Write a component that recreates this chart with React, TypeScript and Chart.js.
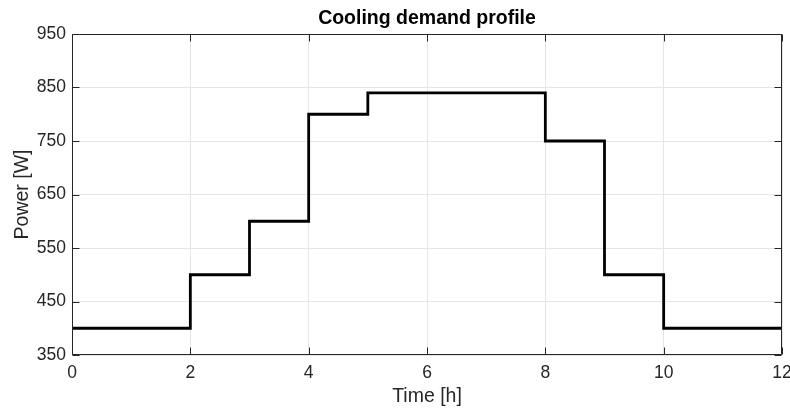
import React, { useEffect, useRef } from "react";
import { Chart, registerables } from "chart.js";

Chart.register(...registerables);

const timeHours = [0, 2, 3, 4, 5, 8, 9, 10, 12];
const powerW = [400, 500, 600, 800, 840, 750, 500, 400, 400];
const xTicks = [0, 2, 4, 6, 8, 10, 12];
const yTicks = [350, 450, 550, 650, 750, 850, 950];
const titleText = "Cooling demand profile";
const xLabel = "Time [h]";
const yLabel = "Power [W]";

const FONT = "'Liberation Sans', Arial, Helvetica, sans-serif";
const TEXT = "#262626";

const framePlugin = {
  id: "frame",
  afterDraw(chart: any) {
    const { ctx, chartArea, scales } = chart;
    const { left, right, top, bottom } = chartArea;
    const x = scales.x;
    const y = scales.y;
    ctx.save();
    ctx.strokeStyle = TEXT;
    ctx.lineWidth = 1;
    const L = Math.round(left) + 0.5;
    const R = Math.round(right) - 0.5;
    const T = Math.round(top) + 0.5;
    const B = Math.round(bottom) - 0.5;
    ctx.beginPath();
    ctx.rect(L, T, R - L, B - T);
    const tl = 7;
    xTicks.forEach((v) => {
      const px = Math.round(x.getPixelForValue(v)) + 0.5;
      ctx.moveTo(px, B);
      ctx.lineTo(px, B - tl);
      ctx.moveTo(px, T);
      ctx.lineTo(px, T + tl);
    });
    yTicks.forEach((v) => {
      const py = Math.round(y.getPixelForValue(v)) + 0.5;
      ctx.moveTo(L, py);
      ctx.lineTo(L + tl, py);
      ctx.moveTo(R, py);
      ctx.lineTo(R - tl, py);
    });
    ctx.stroke();

    ctx.fillStyle = "#000";
    ctx.textAlign = "center";
    ctx.textBaseline = "middle";
    ctx.font = `bold 19.5px ${FONT}`;
    ctx.fillText(titleText, (left + right) / 2, 19);

    ctx.fillStyle = TEXT;
    ctx.font = `19.5px ${FONT}`;
    ctx.fillText(xLabel, (left + right) / 2, 397);

    ctx.translate(23, (top + bottom) / 2);
    ctx.rotate(-Math.PI / 2);
    ctx.fillText(yLabel, 0, 0);
    ctx.restore();
  },
};

export default function App() {
  const ref = useRef<HTMLCanvasElement | null>(null);

  useEffect(() => {
    document.body.style.margin = "0";
    if (!ref.current) return;
    const chart = new Chart(ref.current, {
      type: "line",
      data: {
        datasets: [
          {
            data: timeHours.map((t, i) => ({ x: t, y: powerW[i] })),
            borderColor: "#000000",
            borderWidth: 2.8,
            pointRadius: 0,
            stepped: "before",
            fill: false,
          },
        ],
      },
      options: {
        animation: false,
        responsive: false,
        maintainAspectRatio: false,
        layout: { padding: { top: 34, right: 8, left: 0, bottom: 0 } },
        plugins: {
          legend: { display: false },
          title: { display: false },
          tooltip: { enabled: false },
        },
        scales: {
          x: {
            type: "linear",
            min: 0,
            max: 12,
            afterBuildTicks: (scale: any) => {
              scale.ticks = xTicks.map((v) => ({ value: v }));
            },
            afterFit: (scale: any) => {
              scale.height = 55;
              scale.paddingLeft = 0;
              scale.paddingRight = 0;
            },
            grid: { color: "#e6e6e6", lineWidth: 1, drawTicks: false },
            border: { display: false },
            ticks: {
              color: TEXT,
              font: { family: FONT, size: 17.5 },
              padding: 8,
              maxRotation: 0,
              autoSkip: false,
            },
          },
          y: {
            type: "linear",
            min: 350,
            max: 950,
            afterBuildTicks: (scale: any) => {
              scale.ticks = yTicks.map((v) => ({ value: v }));
            },
            afterFit: (scale: any) => {
              scale.width = 72;
              scale.paddingTop = 0;
              scale.paddingBottom = 0;
            },
            grid: { color: "#e6e6e6", lineWidth: 1, drawTicks: false },
            border: { display: false },
            ticks: {
              color: TEXT,
              font: { family: FONT, size: 17.5 },
              padding: 6,
              autoSkip: false,
            },
          },
        },
      },
      plugins: [framePlugin],
    });
    return () => chart.destroy();
  }, []);

  return (
    <div style={{ width: 790, height: 410 }}>
      <canvas ref={ref} width={790} height={410} style={{ display: "block" }} />
    </div>
  );
}
